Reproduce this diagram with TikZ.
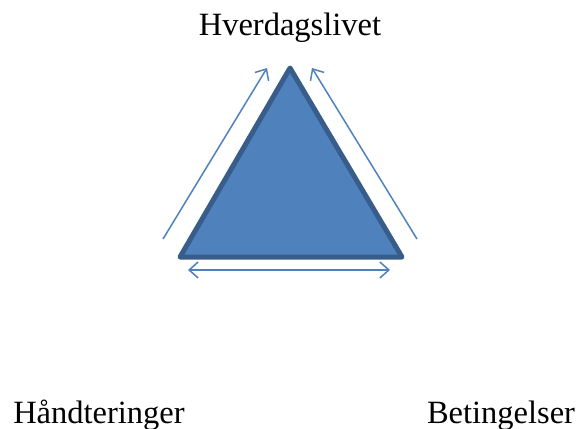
\documentclass[tikz,border=0pt]{standalone}
\usepackage{fontspec}
\setmainfont{Liberation Serif}
\usetikzlibrary{arrows.meta}
\definecolor{accent}{HTML}{4F81BD}
\definecolor{accentdark}{HTML}{385D8A}
\begin{document}
\begin{tikzpicture}[x=1pt,y=-1pt,
  lbl/.style={font=\fontsize{32.5}{36}\selectfont, text=black, inner sep=0pt},
  tri/.style={fill=accent, draw=accentdark, line width=5pt, line join=round},
  arr/.style={draw=accent, line width=1.5pt, -{Straight Barb[length=9pt,width=16pt,line width=1.5pt]}},
  darr/.style={draw=accent, line width=1.5pt, {Straight Barb[length=9pt,width=16pt,line width=1.5pt]}-{Straight Barb[length=9pt,width=16pt,line width=1.5pt]}}]
\useasboundingbox (0,0) rectangle (580,428);
\coordinate (top) at (290,68);
\coordinate (bl) at (180,257);
\coordinate (br) at (402,257);
\draw[tri] (top) -- (bl) -- (br) -- cycle;
\coordinate (la) at (163,239);
\coordinate (lb) at (267,68);
\coordinate (ra) at (417,239);
\coordinate (rb) at (312,68);
\coordinate (ba) at (188,270);
\coordinate (bb) at (390,270);
\draw[arr] (la) -- (lb);
\draw[arr] (ra) -- (rb);
\draw[darr] (ba) -- (bb);
\node[lbl, anchor=base] (hv) at (290,36) {Hverdagslivet};
\node[lbl, anchor=base] (ha) at (99,423) {Håndteringer};
\node[lbl, anchor=base] (be) at (501,423) {Betingelser};
\end{tikzpicture}
\end{document}
